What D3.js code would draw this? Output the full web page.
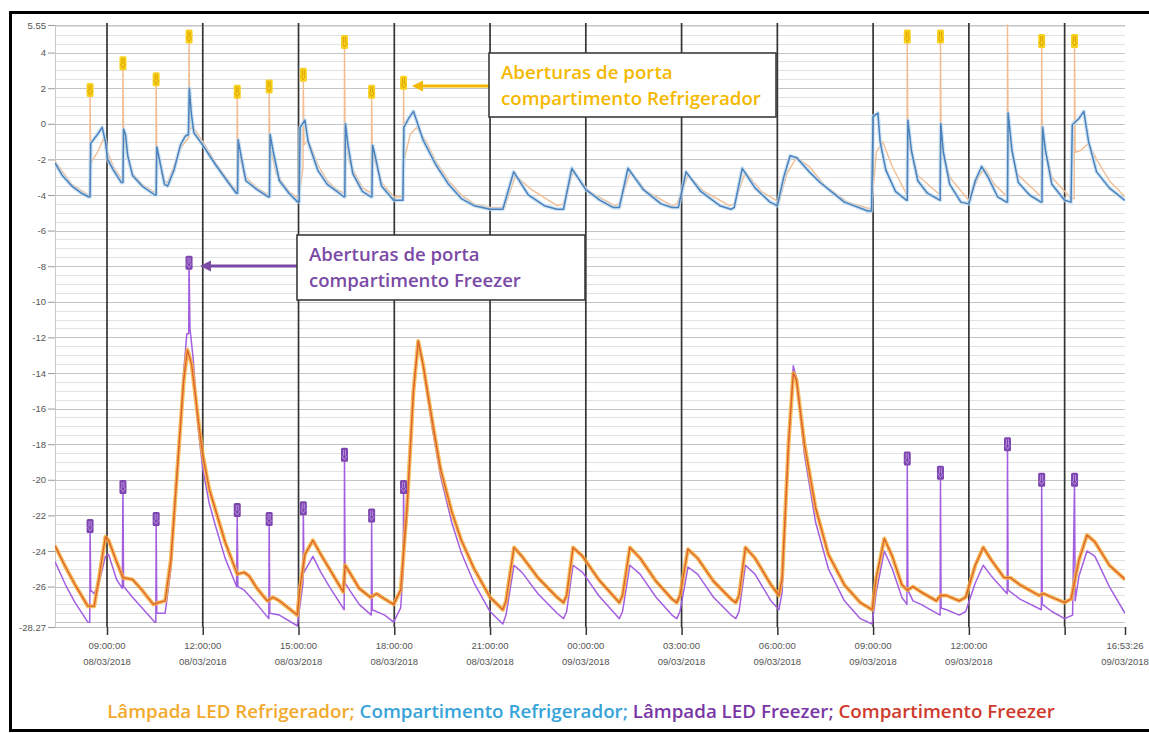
<!DOCTYPE html>
<html>
<head>
<meta charset="utf-8">
<script src="https://cdn.jsdelivr.net/npm/d3@7"></script>
<style>
  html, body { margin: 0; padding: 0; background: #fff; }
  svg { display: block; }
</style>
</head>
<body>
<svg id="chart" width="1149" height="733"></svg>
<script>
// Time axis: hours counted from 08/03/2018 00:00
const timeStart = 7.371;          // 08/03/2018 07:22
const timeEnd = 40.891;           // 09/03/2018 16:53:26
const tempMin = -28.27;
const tempMax = 5.55;

const tickHours = [9, 12, 15, 18, 21, 24, 27, 30, 33, 36, 39, 40.891];
const tickTimeLabels = ["09:00:00", "12:00:00", "15:00:00", "18:00:00", "21:00:00", "00:00:00",
                        "03:00:00", "06:00:00", "09:00:00", "12:00:00", "", "16:53:26"];
const tickDateLabels = ["08/03/2018", "08/03/2018", "08/03/2018", "08/03/2018", "08/03/2018", "09/03/2018",
                        "09/03/2018", "09/03/2018", "09/03/2018", "09/03/2018", "", "09/03/2018"];
const tempTicks = [5.55, 4, 2, 0, -2, -4, -6, -8, -10, -12, -14, -16, -18, -20, -22, -24, -26, -28.27];

// Compartimento Refrigerador [hour, °C]
const fridgeCompartment = [
  [7.37,-2.2],[7.6,-2.9],[7.9,-3.5],[8.2,-3.9],[8.42,-4.1],[8.47,-4.1],[8.49,-1.1],[8.7,-0.6],[8.85,-0.2],
  [8.95,-1.0],[9.02,-2.0],[9.2,-2.6],[9.45,-3.3],[9.5,-3.3],[9.52,-0.3],[9.58,-0.6],[9.65,-1.8],[9.8,-2.9],
  [10.1,-3.5],[10.5,-4.0],[10.54,-4.0],[10.56,-1.3],[10.62,-1.8],[10.8,-3.4],[10.9,-3.5],[11.1,-2.6],
  [11.3,-1.2],[11.45,-0.7],[11.55,-0.6],[11.58,2.0],[11.64,0.6],[11.72,-0.5],[12.0,-1.2],[12.4,-2.3],
  [12.8,-3.3],[13.05,-3.9],[13.09,-3.9],[13.11,-0.9],[13.2,-1.8],[13.35,-3.2],[13.7,-3.7],[14.05,-4.1],
  [14.09,-4.1],[14.11,-0.6],[14.2,-1.5],[14.4,-3.2],[14.7,-3.9],[14.98,-4.4],[15.02,-4.4],[15.05,-0.2],
  [15.2,0.2],[15.3,-1.0],[15.6,-2.6],[15.9,-3.4],[16.2,-3.8],[16.42,-4.1],[16.45,-4.1],[16.47,0.0],
  [16.55,-1.2],[16.7,-2.8],[17.0,-3.8],[17.27,-4.1],[17.3,-4.1],[17.32,-1.2],[17.4,-1.8],[17.6,-3.5],
  [17.98,-4.3],[18.27,-4.3],[18.3,-0.2],[18.45,0.3],[18.6,0.7],[18.9,-0.9],[19.3,-2.3],[19.7,-3.4],
  [20.1,-4.2],[20.5,-4.6],[21.0,-4.8],[21.4,-4.8],[21.74,-2.7],[22.2,-4.0],[22.7,-4.6],[23.1,-4.8],
  [23.3,-4.8],[23.56,-2.5],[24.0,-3.7],[24.45,-4.3],[24.85,-4.7],[25.05,-4.7],[25.32,-2.5],[25.8,-3.7],
  [26.36,-4.5],[26.7,-4.7],[26.9,-4.7],[27.14,-2.7],[27.6,-3.8],[28.2,-4.6],[28.55,-4.8],[28.65,-4.7],
  [28.9,-2.5],[29.3,-3.6],[29.77,-4.4],[30.0,-4.6],[30.2,-3.0],[30.4,-1.8],[30.6,-1.9],[31.0,-2.7],
  [31.34,-3.3],[32.1,-4.4],[32.84,-4.9],[32.95,-4.9],[33.0,0.4],[33.15,0.6],[33.22,-1.0],[33.4,-2.6],
  [33.7,-3.8],[34.05,-4.3],[34.07,-4.3],[34.09,0.2],[34.2,-1.5],[34.4,-3.2],[34.7,-3.9],[35.1,-4.3],
  [35.12,0.0],[35.2,-1.6],[35.4,-3.4],[35.75,-4.4],[36.0,-4.5],[36.2,-3.2],[36.4,-2.4],[36.6,-3.0],
  [36.9,-4.1],[37.18,-4.4],[37.21,-4.4],[37.23,0.6],[37.35,-1.5],[37.55,-3.3],[37.9,-4.0],[38.26,-4.4],
  [38.29,-4.4],[38.31,-0.2],[38.4,-1.5],[38.6,-3.4],[39.0,-4.3],[39.2,-4.4],[39.24,-0.05],[39.45,0.3],
  [39.6,0.7],[39.75,-1.0],[40.0,-2.7],[40.4,-3.6],[40.89,-4.3]
];

// Lâmpada LED Refrigerador [hour, °C]
const fridgeLamp = [
  [7.37,-2.1],[7.9,-3.4],[8.42,-4.0],[8.46,-4.0],[8.47,1.9],[8.49,-2.2],[8.7,-1.6],[8.9,-0.8],[9.0,-1.5],
  [9.2,-2.4],[9.49,-3.2],[9.5,3.4],[9.52,-0.8],[9.6,-1.4],[9.8,-2.8],[10.1,-3.4],[10.53,-3.9],[10.54,2.5],
  [10.56,-1.6],[10.8,-3.2],[10.9,-3.3],[11.3,-1.4],[11.5,-0.9],[11.56,-0.8],[11.57,4.9],[11.59,-0.3],
  [11.7,-0.2],[12.0,-1.0],[12.4,-2.2],[12.8,-3.2],[13.07,-3.8],[13.08,1.8],[13.1,-1.4],[13.3,-2.9],
  [13.7,-3.6],[14.07,-4.0],[14.08,2.1],[14.1,-1.2],[14.3,-2.8],[14.7,-3.8],[15.0,-4.2],[15.14,-2.5],
  [15.15,2.75],[15.17,-1.2],[15.3,-0.9],[15.6,-2.3],[15.9,-3.2],[16.2,-3.7],[16.43,-3.9],[16.44,4.6],
  [16.46,-0.8],[16.6,-2.2],[17.0,-3.6],[17.28,-3.9],[17.29,1.8],[17.31,-1.6],[17.6,-3.3],[17.98,-4.1],
  [18.28,-4.1],[18.29,2.3],[18.31,-2.0],[18.5,-0.6],[18.7,-0.2],[19.0,-1.0],[19.3,-2.1],[19.7,-3.2],
  [20.1,-4.0],[20.5,-4.5],[21.0,-4.7],[21.45,-4.7],[21.8,-2.9],[22.3,-3.7],[23.1,-4.6],[23.3,-4.5],
  [23.6,-2.7],[24.1,-3.8],[24.9,-4.6],[25.05,-4.5],[25.4,-2.7],[25.9,-3.8],[26.7,-4.6],[26.85,-4.5],
  [27.2,-2.9],[27.7,-3.8],[28.5,-4.6],[28.65,-4.5],[29.0,-2.7],[29.5,-3.8],[30.05,-4.4],[30.3,-2.8],
  [30.6,-1.9],[31.0,-2.4],[31.5,-3.5],[32.2,-4.4],[32.95,-4.8],[33.1,-1.6],[33.3,-1.0],[33.6,-2.4],
  [34.06,-4.0],[34.07,4.9],[34.09,-1.0],[34.4,-2.9],[35.1,-4.0],[35.11,4.9],[35.13,-1.2],[35.4,-3.0],
  [36.0,-4.3],[36.3,-3.0],[36.5,-2.5],[36.8,-3.4],[37.2,-4.1],[37.21,5.55],[37.23,-0.6],[37.5,-2.8],
  [38.27,-4.1],[38.28,4.65],[38.3,-0.8],[38.6,-3.0],[39.2,-4.2],[39.3,-4.2],[39.31,4.65],[39.33,-1.6],
  [39.5,-1.5],[39.75,-1.1],[40.0,-2.0],[40.4,-3.2],[40.89,-4.1]
];

// Compartimento Freezer [hour, °C]
const freezerCompartment = [
  [7.37,-23.7],[7.7,-24.9],[8.0,-25.9],[8.4,-27.1],[8.6,-27.1],[8.75,-25.5],[8.95,-23.2],[9.05,-23.4],
  [9.3,-24.6],[9.5,-25.5],[9.8,-25.6],[10.1,-26.2],[10.45,-27.0],[10.6,-26.9],[10.82,-26.8],[11.0,-24.5],
  [11.2,-19.5],[11.4,-14.5],[11.52,-12.7],[11.65,-13.5],[11.85,-16.5],[12.0,-18.6],[12.2,-20.5],
  [12.4,-21.7],[12.7,-23.5],[13.08,-25.3],[13.3,-25.2],[13.45,-25.4],[13.7,-26.1],[14.02,-26.8],
  [14.2,-26.6],[14.4,-26.8],[14.96,-27.6],[15.05,-26.0],[15.2,-24.2],[15.45,-23.4],[15.7,-24.2],
  [16.0,-25.1],[16.4,-26.3],[16.46,-24.8],[16.6,-25.2],[16.9,-26.1],[17.25,-26.6],[17.45,-26.4],
  [17.7,-26.7],[17.98,-27.0],[18.2,-26.2],[18.4,-21.5],[18.6,-15.0],[18.75,-12.2],[18.9,-13.5],
  [19.2,-16.8],[19.45,-19.4],[19.8,-21.8],[20.1,-23.4],[20.5,-25.0],[21.0,-26.6],[21.4,-27.3],
  [21.5,-26.8],[21.75,-23.8],[22.0,-24.3],[22.5,-25.5],[23.1,-26.6],[23.3,-26.9],[23.4,-26.5],
  [23.6,-23.8],[23.9,-24.3],[24.4,-25.6],[24.9,-26.6],[25.05,-26.9],[25.15,-26.5],[25.38,-23.8],
  [25.7,-24.4],[26.2,-25.7],[26.7,-26.7],[26.85,-26.9],[26.95,-26.5],[27.2,-23.9],[27.5,-24.4],
  [28.0,-25.7],[28.55,-26.7],[28.7,-26.9],[28.8,-26.5],[29.0,-23.8],[29.3,-24.4],[29.8,-25.9],
  [30.05,-26.5],[30.15,-25.5],[30.35,-18.0],[30.5,-14.0],[30.6,-14.4],[30.85,-18.0],[31.2,-21.6],
  [31.6,-24.2],[32.1,-25.9],[32.6,-26.9],[32.97,-27.3],[33.1,-25.5],[33.35,-23.3],[33.6,-24.3],
  [33.9,-25.9],[34.07,-26.2],[34.25,-26.0],[34.5,-26.3],[34.98,-26.8],[35.11,-26.5],[35.3,-26.5],
  [35.7,-26.8],[35.9,-26.6],[36.2,-24.8],[36.45,-23.8],[36.7,-24.5],[37.1,-25.5],[37.3,-25.5],
  [37.6,-25.9],[38.2,-26.5],[38.35,-26.4],[38.6,-26.6],[39.0,-26.9],[39.2,-26.7],[39.45,-24.5],
  [39.7,-23.1],[39.95,-23.5],[40.4,-24.8],[40.89,-25.6]
];

// Lâmpada LED Freezer [hour, °C]
const freezerLamp = [
  [7.37,-24.6],[7.7,-25.9],[8.0,-26.9],[8.4,-28.0],[8.46,-28.0],[8.47,-22.6],[8.49,-26.2],[8.6,-26.4],
  [8.75,-25.8],[8.95,-24.3],[9.05,-24.2],[9.3,-25.6],[9.48,-26.1],[9.5,-20.4],[9.52,-26.0],[9.8,-26.6],
  [10.1,-27.2],[10.5,-28.0],[10.53,-28.0],[10.54,-22.2],[10.56,-27.5],[10.82,-27.5],[11.0,-25.0],
  [11.2,-19.5],[11.4,-14.0],[11.5,-11.8],[11.56,-11.8],[11.57,-7.8],[11.6,-11.5],[11.7,-13.2],
  [11.85,-17.0],[12.0,-19.4],[12.2,-21.3],[12.4,-22.6],[12.7,-24.4],[13.06,-26.0],[13.08,-21.7],
  [13.1,-26.0],[13.3,-26.2],[13.7,-27.0],[14.07,-27.8],[14.08,-22.2],[14.1,-27.5],[14.4,-27.6],
  [14.96,-28.2],[15.05,-27.0],[15.14,-25.8],[15.15,-21.6],[15.17,-25.2],[15.45,-24.3],[15.7,-25.2],
  [16.0,-26.1],[16.43,-27.3],[16.44,-18.6],[16.46,-25.8],[16.6,-26.2],[16.9,-27.0],[17.28,-27.6],
  [17.29,-22.0],[17.31,-27.3],[17.7,-27.6],[17.98,-28.0],[18.2,-27.2],[18.28,-25.0],[18.29,-20.4],
  [18.31,-23.8],[18.4,-22.0],[18.6,-15.0],[18.75,-12.3],[18.9,-13.6],[19.2,-17.2],[19.45,-19.8],
  [19.8,-22.4],[20.1,-24.1],[20.5,-25.8],[21.0,-27.4],[21.4,-28.1],[21.5,-27.6],[21.75,-24.8],
  [22.0,-25.2],[22.5,-26.4],[23.1,-27.5],[23.3,-27.8],[23.4,-27.4],[23.6,-24.8],[23.9,-25.2],
  [24.4,-26.5],[24.9,-27.5],[25.05,-27.8],[25.15,-27.4],[25.38,-24.8],[25.7,-25.3],[26.2,-26.6],
  [26.7,-27.6],[26.85,-27.8],[26.95,-27.4],[27.2,-24.9],[27.5,-25.3],[28.0,-26.6],[28.55,-27.6],
  [28.7,-27.8],[28.8,-27.4],[29.0,-24.8],[29.3,-25.3],[29.8,-26.8],[30.05,-27.3],[30.15,-26.3],
  [30.35,-18.0],[30.5,-13.6],[30.6,-14.3],[30.85,-18.6],[31.2,-22.4],[31.6,-25.0],[32.1,-26.8],
  [32.6,-27.8],[32.97,-28.1],[33.1,-26.3],[33.35,-24.0],[33.6,-25.0],[33.9,-26.6],[34.06,-27.0],
  [34.07,-18.8],[34.09,-26.2],[34.25,-26.8],[34.5,-27.0],[35.1,-27.6],[35.11,-19.6],[35.13,-27.2],
  [35.3,-27.3],[35.7,-27.6],[35.9,-27.4],[36.2,-25.8],[36.45,-24.8],[36.7,-25.4],[37.2,-26.4],
  [37.21,-18.0],[37.23,-26.2],[37.6,-26.7],[38.27,-27.3],[38.28,-20.0],[38.3,-27.0],[38.6,-27.4],
  [39.0,-27.8],[39.25,-27.6],[39.31,-20.0],[39.33,-26.8],[39.45,-25.4],[39.7,-24.0],[39.95,-24.3],
  [40.4,-26.0],[40.89,-27.5]
];

// Door openings: time and the peak reading of each lamp sensor (null = no flag drawn)
const doorOpenHours     = [8.47, 9.5, 10.54, 11.57, 13.08, 14.08, 15.15, 16.44, 17.29, 18.29, 34.07, 35.11, 37.21, 38.28, 39.31];
const fridgeDoorPeaks   = [1.9, 3.4, 2.5, 4.9, 1.8, 2.1, 2.75, 4.6, 1.8, 2.3, 4.9, 4.9, null, 4.65, 4.65];
const freezerDoorPeaks  = [-22.6, -20.4, -22.2, -7.8, -21.7, -22.2, -21.6, -18.6, -22.0, -20.4, -18.8, -19.6, -18.0, -20.0, -20.0];

const legendLabels = ["Lâmpada LED Refrigerador;", " Compartimento Refrigerador;", " Lâmpada LED Freezer;", " Compartimento Freezer"];
const legendColors = ["#f2a92c", "#36a3d9", "#7a36a6", "#cf3a2c"];

const svg = d3.select("#chart");
const plot = { left: 55, right: 1125, top: 25, bottom: 627 };

const x = d3.scaleLinear().domain([timeStart, timeEnd]).range([plot.left, plot.right]);
const y = d3.scaleLinear().domain([tempMin, tempMax]).range([plot.bottom, plot.top]);

svg.append("rect").attr("width", 1149).attr("height", 733).attr("fill", "#fff");

// horizontal grid: light lines every 0.5 °C, stronger at the labelled steps
const gridG = svg.append("g");
const minorVals = d3.range(-28, 5.51, 0.5);
gridG.selectAll("line.minor").data(minorVals).join("line")
  .attr("x1", plot.left).attr("x2", plot.right)
  .attr("y1", d => Math.round(y(d)) + 0.5).attr("y2", d => Math.round(y(d)) + 0.5)
  .attr("stroke", d => (d % 2 === 0) ? "#c4c4c4" : "#e2e2e2").attr("stroke-width", 1);
gridG.selectAll("line.edge").data([tempMin, tempMax]).join("line")
  .attr("x1", plot.left).attr("x2", plot.right)
  .attr("y1", d => Math.round(y(d)) + 0.5).attr("y2", d => Math.round(y(d)) + 0.5)
  .attr("stroke", "#c4c4c4");

// y axis
const yAxis = d3.axisLeft(y).tickValues(tempTicks).tickSize(7).tickPadding(2)
  .tickFormat(d => (d === tempMax || d === tempMin) ? d.toFixed(2) : String(d));
const yG = svg.append("g").attr("transform", `translate(${plot.left},0)`).call(yAxis);
yG.select(".domain").attr("stroke", "#c8c8c8");
yG.selectAll(".tick line").attr("stroke", "#9a9a9a");
yG.selectAll(".tick text").attr("fill", "#555").attr("font-size", 9.5).attr("font-family", "Liberation Sans, Arial, sans-serif");

// vertical separators at every 3 h
svg.append("g").selectAll("line").data(tickHours.slice(0, -1)).join("line")
  .attr("x1", d => x(d)).attr("x2", d => x(d))
  .attr("y1", plot.top - 2).attr("y2", plot.bottom)
  .attr("stroke", "#353535").attr("stroke-width", 1.7);

// x axis ticks and two-line labels
const xAxis = d3.axisBottom(x).tickValues(tickHours).tickSize(8).tickFormat("");
const xG = svg.append("g").attr("transform", `translate(0,${plot.bottom})`).call(xAxis);
xG.select(".domain").remove();
xG.selectAll(".tick line").attr("stroke", "#353535").attr("stroke-width", 1.5);
const lbl = svg.append("g").attr("font-family", "Liberation Sans, Arial, sans-serif")
  .attr("font-size", 9.5).attr("fill", "#555").attr("text-anchor", "middle");
lbl.selectAll("text.t").data(tickHours).join("text")
  .attr("x", d => x(d)).attr("y", 649).text((d, i) => tickTimeLabels[i]);
lbl.selectAll("text.d").data(tickHours).join("text")
  .attr("x", d => x(d)).attr("y", 665).text((d, i) => tickDateLabels[i]);

// series
svg.append("defs").append("clipPath").attr("id", "plotClip")
  .append("rect").attr("x", plot.left).attr("y", plot.top - 2)
  .attr("width", plot.right - plot.left).attr("height", plot.bottom - plot.top + 3);
const lines = svg.append("g").attr("clip-path", "url(#plotClip)");
const line = d3.line().x(d => x(d[0])).y(d => y(d[1]));

lines.append("path").datum(fridgeLamp).attr("d", line)
  .attr("fill", "none").attr("stroke", "#f2bd93").attr("stroke-width", 1.4).attr("stroke-linejoin", "round");
lines.append("path").datum(fridgeCompartment).attr("d", line)
  .attr("fill", "none").attr("stroke", "#bcd8f0").attr("stroke-width", 4).attr("stroke-opacity", 0.7).attr("stroke-linejoin", "round");
lines.append("path").datum(fridgeCompartment).attr("d", line)
  .attr("fill", "none").attr("stroke", "#4a82bd").attr("stroke-width", 1.5).attr("stroke-linejoin", "round");

lines.append("path").datum(freezerLamp).attr("d", line)
  .attr("fill", "none").attr("stroke", "#a45fe0").attr("stroke-width", 1.5).attr("stroke-linejoin", "round");
lines.append("path").datum(freezerCompartment).attr("d", line)
  .attr("fill", "none").attr("stroke", "#f2b23e").attr("stroke-width", 4).attr("stroke-opacity", 0.85).attr("stroke-linejoin", "round");
lines.append("path").datum(freezerCompartment).attr("d", line)
  .attr("fill", "none").attr("stroke", "#e0602c").attr("stroke-width", 1.3).attr("stroke-linejoin", "round");

// door-opening flags
function flag(g, cx, cy, fill, mark) {
  g.append("rect").attr("x", cx - 3.5).attr("y", cy - 7).attr("width", 7).attr("height", 14)
    .attr("rx", 1.5).attr("fill", fill);
  g.append("path")
    .attr("d", `M${cx - 1},${cy - 5}V${cy + 1}M${cx + 1},${cy - 5}V${cy + 1}M${cx - 2.5},${cy + 1}L${cx},${cy + 5}L${cx + 2.5},${cy + 1}`)
    .attr("fill", "none").attr("stroke", mark).attr("stroke-width", 1);
}
const flags = svg.append("g");
doorOpenHours.forEach((h, i) => {
  if (fridgeDoorPeaks[i] !== null) flag(flags, x(h), y(fridgeDoorPeaks[i]), "#f7d11e", "#e0a200");
  flag(flags, x(h), y(freezerDoorPeaks[i]), "#7d45b0", "#b68ddb");
});

// callouts
function callout(box, lines2, color, arrowY, tipX, textWidth) {
  const g = svg.append("g");
  g.append("line").attr("x1", box.x).attr("x2", tipX + 8).attr("y1", arrowY).attr("y2", arrowY)
    .attr("stroke", color).attr("stroke-width", 3);
  g.append("path").attr("d", `M${tipX},${arrowY}L${tipX + 11},${arrowY - 5.5}L${tipX + 11},${arrowY + 5.5}Z`).attr("fill", color);
  g.append("rect").attr("x", box.x).attr("y", box.y).attr("width", box.w).attr("height", box.h)
    .attr("fill", "#fff").attr("stroke", "#3b3b3b").attr("stroke-width", 1.6);
  const t = g.selectAll("text").data(lines2).join("text")
    .attr("x", box.x + 12).attr("y", (d, i) => box.y + 26 + i * 26)
    .attr("fill", color).attr("font-family", "Open Sans, Lato, sans-serif").attr("font-weight", 600)
    .attr("font-size", 16).text(d => d);
  const w = t.nodes()[1].getComputedTextLength();
  t.attr("font-size", 16 * textWidth / w);
}
callout({ x: 489, y: 53, w: 287, h: 64 }, ["Aberturas de porta", "compartimento Refrigerador"], "#f5b800", 86, 412, 260);
callout({ x: 297, y: 235, w: 288, h: 65 }, ["Aberturas de porta", "compartimento Freezer"], "#7a4aa6", 266, 200, 212);

// legend line
const leg = svg.append("text").attr("x", 581).attr("y", 718).attr("text-anchor", "middle")
  .attr("font-family", "Open Sans, Lato, sans-serif").attr("font-weight", 600).attr("font-size", 16);
leg.selectAll("tspan").data(legendLabels).join("tspan").attr("fill", (d, i) => legendColors[i]).text(d => d);
const lw = leg.node().getComputedTextLength();
leg.attr("font-size", 16 * 948 / lw);

// outer frame
svg.append("rect").attr("x", 10.5).attr("y", 12.5).attr("width", 1150).attr("height", 718)
  .attr("fill", "none").attr("stroke", "#000").attr("stroke-width", 3);
</script>
</body>
</html>
